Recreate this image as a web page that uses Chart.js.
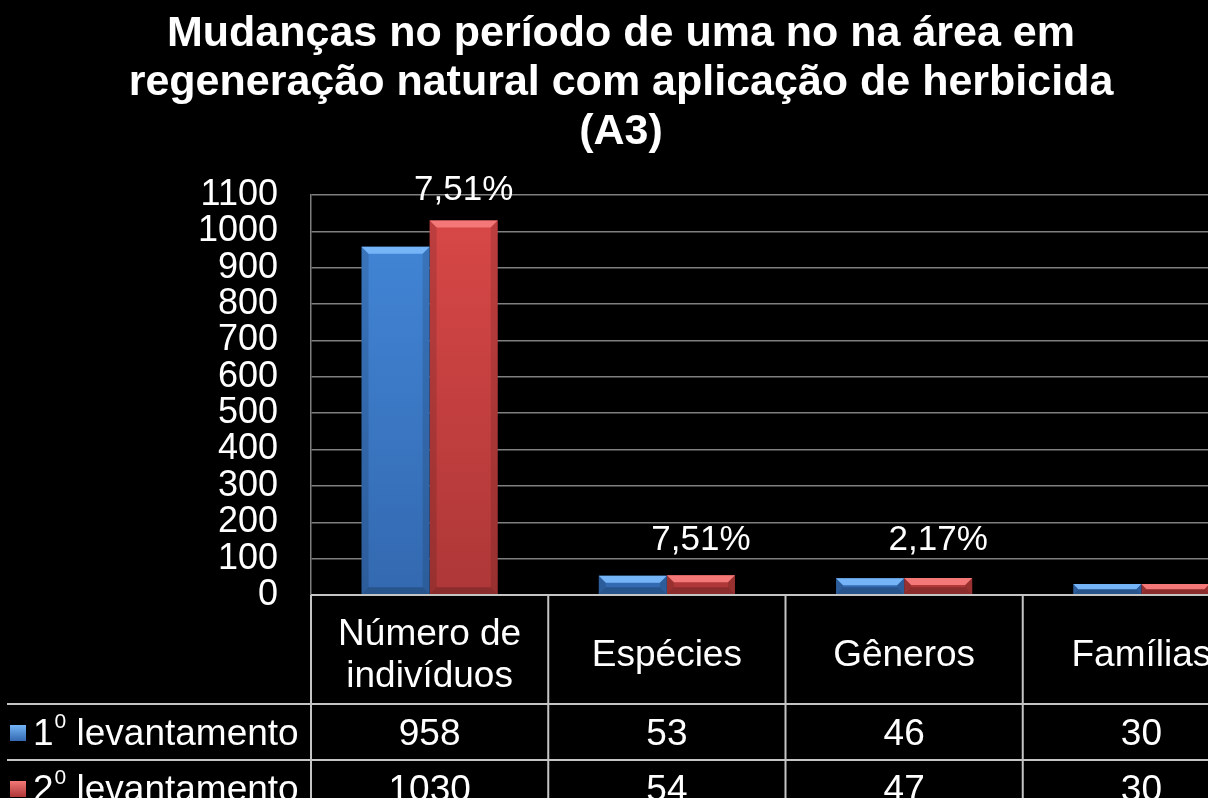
<!DOCTYPE html>
<html>
<head>
<meta charset="utf-8">
<script src="https://cdn.jsdelivr.net/npm/chart.js@4"></script>
<style>
  html, body { margin: 0; padding: 0; background: #000; overflow: hidden; }
  #wrap { position: relative; width: 1260px; height: 820px; }
</style>
</head>
<body>
<div id="wrap"><canvas id="chart" width="1260" height="820"></canvas></div>
<script>
// chart data
const titleLines = [
    'Mudanças no período de uma no na área em',
    'regeneração natural com aplicação de herbicida',
    '(A3)'
];
const categories = [['Número de', 'indivíduos'], 'Espécies', 'Gêneros', 'Famílias'];
const seriesNames = ['1⁰ levantamento', '2⁰ levantamento'];
const survey1 = [958, 53, 46, 30];
const survey2 = [1030, 54, 47, 30];
const changeLabels = ['7,51%', '7,51%', '2,17%', ''];

const FONT = '"Liberation Sans", Arial, sans-serif';
const colors = [
    { body: '#4388da', dark: '#3369b0', light: '#74b4f7' },
    { body: '#da4848', dark: '#ae3737', light: '#f47878' }
];

function fillGradient(ctx, idx) {
    const area = ctx.chart.chartArea;
    if (!area) return colors[idx].body;
    const g = ctx.chart.ctx.createLinearGradient(0, area.top, 0, area.bottom);
    g.addColorStop(0, colors[idx].body);
    g.addColorStop(1, colors[idx].dark);
    return g;
}

// bevel edges on each bar
const bevelPlugin = {
    id: 'bevel',
    afterDatasetsDraw(chart) {
        const ctx = chart.ctx;
        chart.data.datasets.forEach((ds, d) => {
            chart.getDatasetMeta(d).data.forEach(bar => {
                const l = bar.x - bar.width / 2, r = bar.x + bar.width / 2;
                const t = bar.y, b = bar.base;
                const e = Math.min(7, (b - t) / 2);
                ctx.save();
                ctx.fillStyle = colors[d].light;
                ctx.beginPath();
                ctx.moveTo(l, t); ctx.lineTo(r, t); ctx.lineTo(r - e, t + e); ctx.lineTo(l + e, t + e);
                ctx.closePath(); ctx.fill();
                ctx.fillStyle = 'rgba(0,0,0,0.12)';
                ctx.beginPath();
                ctx.moveTo(l, t); ctx.lineTo(l + e, t + e); ctx.lineTo(l + e, b - e); ctx.lineTo(l, b);
                ctx.closePath(); ctx.fill();
                ctx.beginPath();
                ctx.moveTo(r, t); ctx.lineTo(r - e, t + e); ctx.lineTo(r - e, b - e); ctx.lineTo(r, b);
                ctx.closePath(); ctx.fill();
                ctx.fillStyle = 'rgba(0,0,0,0.2)';
                ctx.beginPath();
                ctx.moveTo(l, b); ctx.lineTo(l + e, b - e); ctx.lineTo(r - e, b - e); ctx.lineTo(r, b);
                ctx.closePath(); ctx.fill();
                ctx.restore();
            });
        });
    }
};

// percentage labels above the second survey bars
const changePlugin = {
    id: 'changeLabels',
    afterDatasetsDraw(chart) {
        const ctx = chart.ctx;
        const floor = chart.scales.y.getPixelForValue(150);
        ctx.save();
        ctx.fillStyle = '#fff';
        ctx.font = '35px ' + FONT;
        ctx.textAlign = 'center';
        ctx.textBaseline = 'middle';
        chart.getDatasetMeta(1).data.forEach((bar, i) => {
            if (!changeLabels[i]) return;
            ctx.fillText(changeLabels[i], bar.x, Math.min(bar.y - 30, floor));
        });
        ctx.restore();
    }
};

function drawLabel(ctx, text, x, y) {
    // draws "1⁰ levantamento" with a raised small zero
    const parts = text.split('⁰');
    ctx.font = '37px ' + FONT;
    ctx.fillText(parts[0], x, y);
    x += ctx.measureText(parts[0]).width + 1;
    ctx.font = '21px ' + FONT;
    ctx.fillText('0', x, y - 13);
    x += ctx.measureText('0').width;
    ctx.font = '37px ' + FONT;
    ctx.fillText(parts[1], x, y);
}

// title + data table under the plot
const tablePlugin = {
    id: 'table',
    afterDraw(chart) {
        const ctx = chart.ctx;
        const area = chart.chartArea;
        const W = chart.width;
        const colW = (area.right - area.left) / categories.length;
        const rowTop = area.bottom, row1 = 704, row2 = 760, rowEnd = 816;

        ctx.save();
        ctx.fillStyle = '#fff';
        ctx.font = 'bold 43px ' + FONT;
        ctx.textAlign = 'center';
        ctx.textBaseline = 'middle';
        titleLines.forEach((t, i) => ctx.fillText(t, 621, 34 + i * 49));

        ctx.strokeStyle = '#c4c4c4';
        ctx.lineWidth = 2;
        ctx.beginPath();
        [row1, row2, rowEnd].forEach(y => { ctx.moveTo(7, y); ctx.lineTo(W, y); });
        ctx.moveTo(area.left, rowTop); ctx.lineTo(W, rowTop);
        for (let i = 0; i <= categories.length; i++) {
            const x = area.left + i * colW;
            ctx.moveTo(x, rowTop); ctx.lineTo(x, rowEnd);
        }
        ctx.stroke();

        ctx.font = '37px ' + FONT;
        categories.forEach((c, i) => {
            const cx = area.left + (i + 0.5) * colW;
            const lines = Array.isArray(c) ? c : [c];
            lines.forEach((ln, k) => {
                ctx.fillText(ln, cx, (rowTop + row1) / 2 + 6 + (k - (lines.length - 1) / 2) * 42);
            });
            ctx.fillText(String(survey1[i]), cx, (row1 + row2) / 2 + 3);
            ctx.fillText(String(survey2[i]), cx, (row2 + rowEnd) / 2 + 3);
        });

        [row1, row2].forEach((top, d) => {
            const cy = top + 29;
            const g = ctx.createLinearGradient(0, cy - 8, 0, cy + 8);
            g.addColorStop(0, colors[d].light);
            g.addColorStop(1, colors[d].dark);
            ctx.fillStyle = g;
            ctx.fillRect(10, cy - 8, 16, 16);
            ctx.fillStyle = '#fff';
            ctx.textAlign = 'left';
            drawLabel(ctx, seriesNames[d], 33, cy + 2);
            ctx.textAlign = 'center';
        });
        ctx.restore();
    }
};

const ctx = document.getElementById('chart').getContext('2d');
new Chart(ctx, {
    type: 'bar',
    data: {
        labels: categories,
        datasets: [
            { label: seriesNames[0], data: survey1, backgroundColor: c => fillGradient(c, 0) },
            { label: seriesNames[1], data: survey2, backgroundColor: c => fillGradient(c, 1) }
        ]
    },
    options: {
        responsive: false,
        animation: false,
        datasets: { bar: { categoryPercentage: 0.574, barPercentage: 1, borderWidth: 0 } },
        layout: { padding: { top: 195, bottom: 217, left: 0, right: 0 } },
        plugins: { legend: { display: false }, title: { display: false }, tooltip: { enabled: false } },
        scales: {
            x: {
                ticks: { display: false },
                grid: { display: false },
                border: { display: true, color: '#c4c4c4', width: 2 }
            },
            y: {
                min: 0,
                max: 1100,
                afterFit(scale) { scale.width = 311; },
                ticks: {
                    stepSize: 100,
                    autoSkip: false,
                    color: '#fff',
                    font: { size: 36, family: FONT },
                    padding: 33,
                    callback: v => String(v)
                },
                grid: { color: '#7f7f7f', lineWidth: 1.5, drawTicks: false },
                border: { display: true, color: '#7f7f7f', width: 1.5 }
            }
        }
    },
    plugins: [bevelPlugin, changePlugin, tablePlugin]
});
</script>
</body>
</html>
